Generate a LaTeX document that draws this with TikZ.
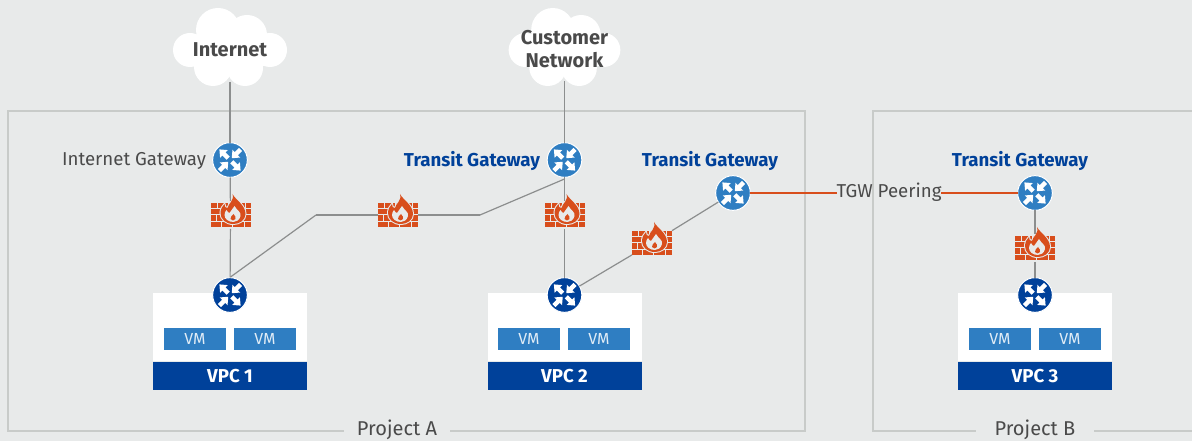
\documentclass[tikz,border=0pt]{standalone}
\usepackage{fontspec}
\setmainfont{Fira Sans}
\usetikzlibrary{graphs}
\definecolor{pagegray}{HTML}{E8EAEA}
\definecolor{framegray}{HTML}{C8CBC9}
\definecolor{wiregray}{HTML}{8C8E8E}
\definecolor{navy}{HTML}{00419A}
\definecolor{skyblue}{HTML}{2F7EC2}
\definecolor{brick}{HTML}{D84E1C}
\definecolor{textgray}{HTML}{4A4A4A}
\tikzset{
    x=0.75pt,
    y=-0.75pt,
    every node/.style={inner sep=0pt, outer sep=0pt},
    router/.style={
        shape=circle,
        draw=white,
        line width=0.75pt,
        fill=#1,
        minimum size=26pt
    },
    firewall/.style={
        shape=rectangle,
        minimum width=30pt,
        minimum height=21pt
    },
    wire/.style={draw=wiregray, line width=0.9pt},
    peering/.style={draw=brick, line width=1.1pt},
    frame/.style={draw=framegray, line width=2pt},
    framelabel/.style={fill=pagegray, text=textgray, font=\fontsize{15}{18}\selectfont, minimum width=79pt, minimum height=17pt},
    cloudlabel/.style={text=textgray, font=\fontsize{15}{17.5}\selectfont\bfseries, align=center, minimum width=75pt, minimum height=48pt},
    gatewayname/.style={text=navy, font=\fontsize{14}{17}\selectfont\bfseries},
    plainname/.style={text=textgray, font=\fontsize{14}{17}\selectfont},
    vmbox/.style={fill=skyblue, text=white!85!skyblue, font=\fontsize{12}{14}\selectfont, minimum width=46.5pt, minimum height=16.5pt},
    vpcbody/.style={fill=white, minimum width=115.5pt, minimum height=51pt},
    vpcbar/.style={fill=navy, text=white, font=\fontsize{14}{16}\selectfont\bfseries, minimum width=115.5pt, minimum height=21pt},
    puffs/.pic={
        \fill[white] (-40,2) circle[radius=17];
        \fill[white] (-12,-18) circle[radius=22];
        \fill[white] (17,-13) circle[radius=20];
        \fill[white] (40,2) circle[radius=17];
        \fill[white] (-17,19) circle[radius=19];
        \fill[white] (15,20) circle[radius=18];
        \fill[white] (-38,-8) rectangle (40,18);
    },
    crossarrows/.pic={
        \foreach \ang in {45,225}
            \fill[white,rotate=\ang] (2.5,0) -- (9,-5.5) -- (9,-2.2) -- (15,-2.2) -- (15,2.2) -- (9,2.2) -- (9,5.5) -- cycle;
        \foreach \ang in {135,315}
            \fill[white,rotate=\ang] (15,0) -- (8.5,-5.5) -- (8.5,-2.2) -- (2.5,-2.2) -- (2.5,2.2) -- (8.5,2.2) -- (8.5,5.5) -- cycle;
    },
    fireicon/.pic={
        % wall, four courses of bricks
        \foreach \xa/\xb in {-20/-14,-13/-3,-2/8,9/14,15/20}
            \fill[brick] (\xa,-12) rectangle (\xb,-7);
        \foreach \xa/\xb in {-20/-9,-8/3,4/14,15/20}
            \fill[brick] (\xa,-6) rectangle (\xb,-0.7);
        \foreach \xa/\xb in {-20/-15,-14/-3,-2/8,9/20}
            \fill[brick] (\xa,0.3) rectangle (\xb,5.6);
        \foreach \xa/\xb in {-20/-10,-9/1,2/13,14/20}
            \fill[brick] (\xa,6.6) rectangle (\xb,12);
        % flame
        \path[fill=pagegray, draw=pagegray, line width=1.5pt]
            (2,-21) .. controls (5,-15) and (15,-10) .. (15,-1) .. controls (15,5) and (9,9) .. (3,9)
            .. controls (-5,9) and (-10,4) .. (-10,-2) .. controls (-10,-6) and (-8,-9) .. (-6,-11)
            .. controls (-6,-8) and (-5,-7) .. (-3,-7) .. controls (-2,-12) and (4,-14) .. (2,-21) -- cycle;
        \fill[brick]
            (2,-21) .. controls (5,-15) and (15,-10) .. (15,-1) .. controls (15,5) and (9,9) .. (3,9)
            .. controls (-5,9) and (-10,4) .. (-10,-2) .. controls (-10,-6) and (-8,-9) .. (-6,-11)
            .. controls (-6,-8) and (-5,-7) .. (-3,-7) .. controls (-2,-12) and (4,-14) .. (2,-21) -- cycle;
        \fill[pagegray]
            (4,-9) .. controls (6,-5) and (11,-3) .. (10,1) .. controls (9,5) and (6,7) .. (3,7)
            .. controls (-2,7) and (-6,4) .. (-6,0) .. controls (-6,-2) and (-5,-4) .. (-4,-5)
            .. controls (-3,-3) and (-2,-2) .. (-1,-2) .. controls (0,-5) and (3,-6) .. (4,-9) -- cycle;
        \fill[brick]
            (3,-1) .. controls (4,1) and (6,2) .. (5,4) .. controls (4,6) and (1,6) .. (0,4)
            .. controls (-1,2) and (2,1) .. (3,-1) -- cycle;
    }
}
\begin{document}
\begin{tikzpicture}
    \fill[pagegray] (0,0) rectangle (1192,441);
    \useasboundingbox (0,0) rectangle (1192,441);

    % project frames
    \draw[frame] (8,111) rectangle (805,431);
    \draw[frame] (1192,111) -- (873,111) -- (873,431) -- (1192,431);
    \node[framelabel] (projecta) at(397,430) {Project A};
    \node[framelabel, minimum width=88pt] (projectb) at(1035,430) {Project B};

    % clouds
    \pic at (230,48) {puffs};
    \pic[xscale=0.98] at (564.5,48) {puffs};
    \node[cloudlabel] (internet) at(230,50) {Internet};
    \node[cloudlabel] (customer) at(564.5,49) {Customer\\Network};

    % VPC boxes
    \node[vpcbody] (body1) at(230,327.5) {};
    \node[vpcbody] (body2) at(564.5,327.5) {};
    \node[vpcbody] (body3) at(1035,327.5) {};
    \node[vpcbar] (vpc1) at(230,376) {VPC 1};
    \node[vpcbar] (vpc2) at(564.5,376) {VPC 2};
    \node[vpcbar] (vpc3) at(1035,376) {VPC 3};
    \node[vmbox] (vm1a) at(195,339) {VM};
    \node[vmbox] (vm1b) at(265,339) {VM};
    \node[vmbox] (vm2a) at(529,339) {VM};
    \node[vmbox] (vm2b) at(599,339) {VM};
    \node[vmbox] (vm3a) at(1000,339) {VM};
    \node[vmbox] (vm3b) at(1070,339) {VM};

    % routers
    \node[router=skyblue] (igw) at(230,160) {};
    \node[router=skyblue] (tgw2) at(564.5,160) {};
    \node[router=skyblue] (tgwa) at(733,193) {};
    \node[router=skyblue] (tgwb) at(1035,193) {};
    \node[router=navy] (rt1) at(230,295) {};
    \node[router=navy] (rt2) at(564.5,295) {};
    \node[router=navy] (rt3) at(1035,295) {};
    \foreach \rt in {igw,tgw2,tgwa,tgwb,rt1,rt2,rt3}
        \pic at (\rt) {crossarrows};

    % firewalls
    \node[firewall] (fw1) at(230.5,215) {};
    \node[firewall] (fw2) at(398,215) {};
    \node[firewall] (fw3) at(564.5,215) {};
    \node[firewall] (fw4) at(652,243) {};
    \node[firewall] (fw5) at(1035,248) {};
    \foreach \fw in {fw1,fw2,fw3,fw4,fw5}
        \pic at (\fw) {fireicon};

    % labels
    \node[plainname, anchor=east] (igwname) at(206,161) {Internet Gateway};
    \node[gatewayname] (tgw2name) at(472,161) {Transit Gateway};
    \node[gatewayname] (tgwaname) at(710,161) {Transit Gateway};
    \node[gatewayname] (tgwbname) at(1020,161) {Transit Gateway};
    \node[plainname, text height=10pt, text depth=3pt] (peer) at(889,193) {TGW Peering};

    \coordinate (benda) at(316,215);
    \coordinate (bendb) at(480,215);
    \coordinate (tapa) at(230.5,277);
    \coordinate (tapb) at(564.5,179);

    \graph[edges={wire}]{
        (internet)--(igw)--(fw1)--(rt1);
        (customer)--(tgw2)--(fw3)--(rt2);
        (tapa)--(benda)--(fw2)--(bendb)--(tapb);
        (rt2)--(fw4)--(tgwa);
        (tgwb)--(fw5)--(rt3);
    };
    \graph[edges={peering}]{
        (tgwa)--(peer);
        (peer)--(tgwb);
    };
\end{tikzpicture}
\end{document}
